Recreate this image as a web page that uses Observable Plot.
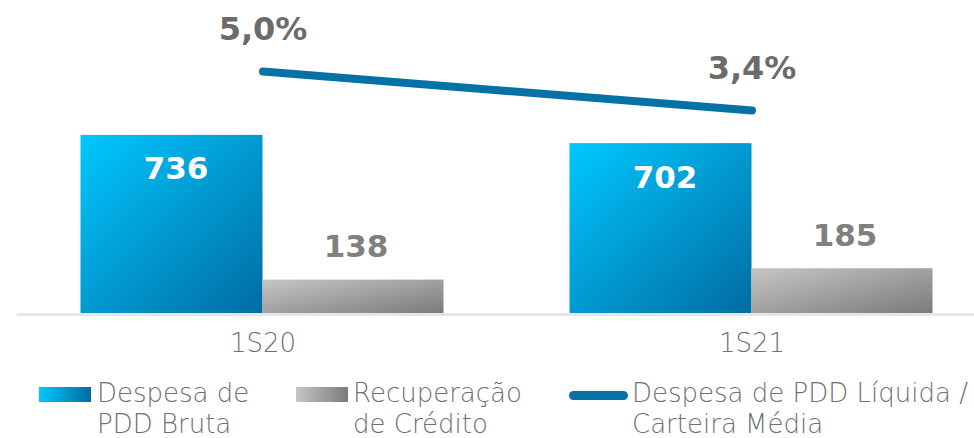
<!DOCTYPE html>
<html><head><meta charset="utf-8">
<script src="https://cdn.jsdelivr.net/npm/d3@7"></script>
<script src="https://cdn.jsdelivr.net/npm/@observablehq/plot@0.6"></script>
<style>
body{margin:0;background:#fff;overflow:hidden}
#wrap{position:relative;width:974px;height:438px;font-family:"DejaVu Sans",sans-serif}
#wrap svg{position:absolute;left:0;top:0;overflow:visible}
.leg{position:absolute;font-size:26px;line-height:26px;color:#707070;font-weight:200;white-space:nowrap}
.sw{position:absolute}
</style></head><body><div id="wrap"></div>
<script>
const periods = ["1S20", "1S21"];
const despesaBruta = [736, 702];
const recuperacao = [138, 185];
const pddLiquidaPct = [5.0, 3.4];
const legendLabels = [
  ["Despesa de", "PDD Bruta"],
  ["Recuperação", "de Crédito"],
  ["Despesa de PDD Líquida /", "Carteira Média"]
];

const rows = periods.map((p, i) => ({period: p, bruta: despesaBruta[i], rec: recuperacao[i], pct: pddLiquidaPct[i]}));
// secondary axis: percent mapped onto the bar value scale
const pctScale = d3.scaleLinear([0, 5], [497, 1000]);

function gradients() {
  const defs = d3.create("svg:defs");
  const b = defs.append("linearGradient").attr("id", "gBlue").attr("x1", 0).attr("y1", 0).attr("x2", 1).attr("y2", 1);
  b.append("stop").attr("offset", "0%").attr("stop-color", "#00c8ff");
  b.append("stop").attr("offset", "100%").attr("stop-color", "#006ca2");
  const g = defs.append("linearGradient").attr("id", "gGray").attr("x1", 0).attr("y1", 0).attr("x2", 1).attr("y2", 1);
  g.append("stop").attr("offset", "0%").attr("stop-color", "#c6c6c6");
  g.append("stop").attr("offset", "100%").attr("stop-color", "#7b7b7b");
  return defs.node();
}

const chart = Plot.plot({
  width: 974, height: 375,
  marginLeft: 17, marginRight: 0, marginTop: 0, marginBottom: 62,
  x: {type: "band", domain: periods, range: [17.5, 995.5], padding: 0, axis: null},
  y: {domain: [0, 1000], range: [313, 71], axis: null},
  style: {fontFamily: "DejaVu Sans", overflow: "visible"},
  marks: [
    gradients,
    Plot.barY(rows, {x: "period", y: "bruta", fill: "url(#gBlue)", insetLeft: 62.5, insetRight: 244.5}),
    Plot.barY(rows, {x: "period", y: "rec", fill: "url(#gGray)", insetLeft: 244.5, insetRight: 63.5}),
    Plot.ruleY([0], {stroke: "#e2e2e2", strokeWidth: 2.5, dy: 1}),
    Plot.line(rows, {x: "period", y: d => pctScale(d.pct), stroke: "#0571a5", strokeWidth: 8, strokeLinecap: "round"}),
    Plot.text(rows, {x: "period", y: "bruta", text: d => String(d.bruta), dx: -87, dy: 34, fill: "white", fontSize: 31, fontWeight: "bold"}),
    Plot.text(rows, {x: "period", y: "rec", text: d => String(d.rec), dx: 93, dy: -33, fill: "#808080", fontSize: 31, fontWeight: "bold"}),
    Plot.text(rows, {x: "period", y: d => pctScale(d.pct), text: d => d.pct.toFixed(1).replace(".", ",") + "%", dy: -42, fill: "#6b6b6b", fontSize: 32, fontWeight: "bold"}),
    Plot.text(periods, {x: d => d, frameAnchor: "bottom", dy: 38, text: d => d, fill: "#707070", fontSize: 26, fontWeight: 200})
  ]
});

const wrap = document.getElementById("wrap");
wrap.appendChild(chart);

const legendItems = [
  {sw: {left: 39, top: 387, width: 52, height: 15, background: "linear-gradient(to right,#00c8ff,#006ca2)"}, textLeft: 97},
  {sw: {left: 296, top: 387, width: 52, height: 15, background: "linear-gradient(to right,#c6c6c6,#7b7b7b)"}, textLeft: 353},
  {sw: {left: 569, top: 391, width: 59, height: 9, background: "#0571a5", borderRadius: "5px"}, textLeft: 632}
];
const lineTops = [380, 411];
legendItems.forEach((it, i) => {
  const s = document.createElement("div");
  s.className = "sw";
  for (const k in it.sw) s.style[k] = typeof it.sw[k] === "number" ? it.sw[k] + "px" : it.sw[k];
  wrap.appendChild(s);
  legendLabels[i].forEach((line, j) => {
    const t = document.createElement("div");
    t.className = "leg";
    t.style.left = it.textLeft + "px";
    t.style.top = lineTops[j] + "px";
    t.textContent = line;
    wrap.appendChild(t);
  });
});
</script>
</body></html>
